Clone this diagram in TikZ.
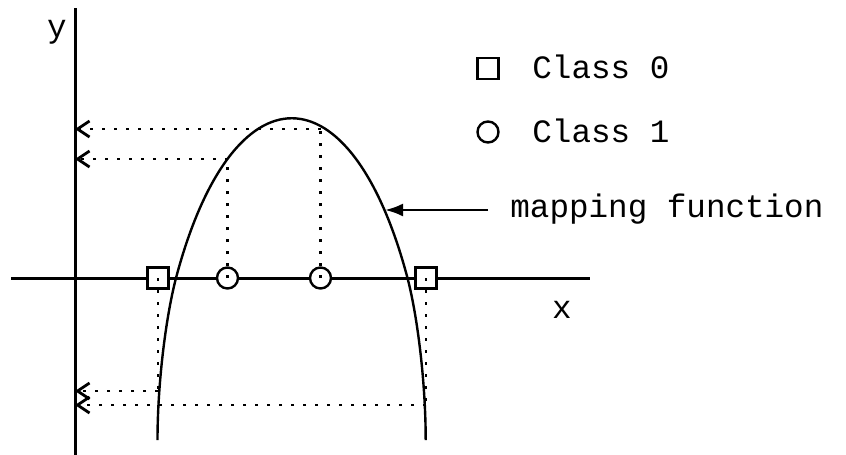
\documentclass[tikz,border=0pt]{standalone}
\usepackage{fontspec}
\setmainfont{Liberation Mono}
\usetikzlibrary{arrows.meta,positioning}
\tikzset{ax/.style={line width=1.5pt},fn/.style={line width=1.2pt},
 proj/.style={line width=1.4pt,dash pattern=on 1.5pt off 4.5pt},
 tip/.style={-{Straight Barb[length=6pt,width=8pt]}},
 pt/.style={line width=1.3pt,-{Latex[length=9pt,width=6.5pt]}},
 sq/.style={draw,line width=1.2pt,fill=white,minimum size=10.5pt,inner sep=0pt},
 ci/.style={draw,circle,line width=1.2pt,fill=white,minimum size=10.5pt,inner sep=0pt},
 lbl/.style={font=\fontsize{16.3}{19}\selectfont,inner sep=0pt}}
\begin{document}
\begin{tikzpicture}[x=0.5pt,y=-0.5pt]
\useasboundingbox (0,0) rectangle (846,455);
% axes
\coordinate (yt) at (75,8);\coordinate (yb) at (75,455);
\coordinate (xl) at (11,278);\coordinate (xr) at (590,278);
\draw[ax](yt)--(yb);\draw[ax](xl)--(xr);
\node[lbl,anchor=base](ylab) at (57,37){y};
\node[lbl,anchor=base](xlab) at (562,318){x};
% the mapping function
\coordinate (lb) at (157.5,440);\coordinate (lx) at (176,278);
\coordinate (rx) at (407.5,278);\coordinate (rb) at (425.7,440);
\draw[fn](lb)..controls(157.5,385)and(165.4,319)..(lx)..controls(232.5,65)and(351,65)..(rx)..controls(418.1,319)and(425.7,385)..(rb);
% samples on the x axis
\node[sq](s0) at (158,278){};\node[ci](c0) at (227.5,278){};
\node[ci](c1) at (320.5,278){};\node[sq](s1) at (426,278){};
% projections onto the y axis
\coordinate (p0) at (158,391);\coordinate (p1) at (227.5,159);
\coordinate (p2) at (320.5,129);\coordinate (p3) at (426,405);
\draw[proj](s0.center)--(p0);\draw[proj,tip](p0)--(yb|-p0);
\draw[proj](c0.center)--(p1);\draw[proj,tip](p1)--(yb|-p1);
\draw[proj](c1.center)--(p2);\draw[proj,tip](p2)--(yb|-p2);
\draw[proj](s1.center)--(p3);\draw[proj,tip](p3)--(yb|-p3);
% legend
\node[sq](lsq) at (488,68.5){};\node[lbl,anchor=base west](l0) at (532,78.5){Class 0};
\node[ci](lci) at (488,132){};\node[lbl,anchor=base west](l1) at (532,142){Class 1};
\node[lbl,anchor=base west](mf) at (510,217){mapping function};
\coordinate (mt) at (385,210);
\draw[pt,shorten <=11pt](mt-|mf.west)--(mt);
\end{tikzpicture}
\end{document}
